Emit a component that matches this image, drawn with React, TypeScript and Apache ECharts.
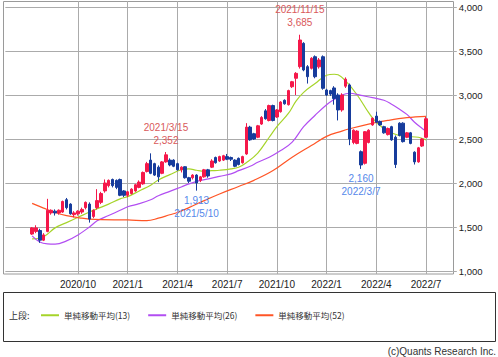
import React, { useEffect, useRef } from "react";
import * as echarts from "echarts";

// Weekly categories (Mondays)
const FIRST_WEEK = "2020-05-25";
const WEEK_COUNT = 118;
const CANDLE_START = "2020-07-13";

// Weekly candles from 2020-07-13 to 2022-07-04
const OPEN = [
  1420, 1450, 1460, 1350, 1450, 1660, 1680, 1660, 1670, 1810, 1760, 1640, 1650, 1670, 1720, 1760, 1620, 1720, 1780, 1910,
  1970, 2040, 2030, 2040, 1910, 1860, 1880, 1910, 1950, 1990, 2130, 2260, 2220, 2180, 2110, 2240, 2260, 2260, 2220, 2150,
  2185, 2060, 2060, 2090, 2030, 2070, 2150, 2180, 2290, 2250, 2260, 2300, 2290, 2260, 2280, 2230, 2330, 2635, 2560, 2520,
  2670, 2820, 2710, 2880, 2750, 2810, 2940, 2890, 3094, 3190, 3322, 3587, 3322, 3303, 3435, 3320, 3435, 3057, 3050, 3080,
  3000, 2830, 3100, 3114, 2460, 2450, 2356, 2224, 2460, 2660, 2760, 2700, 2640, 2550, 2640, 2520, 2680, 2680, 2520, 2570,
  2350, 2240, 2420, 2520,
];
const CLOSE = [
  1490, 1490, 1350, 1410, 1690, 1690, 1660, 1690, 1790, 1720, 1650, 1660, 1680, 1700, 1780, 1590, 1690, 1800, 1880, 2000,
  2030, 1970, 1950, 1860, 1860, 1900, 1930, 1980, 2010, 2120, 2220, 2110, 2090, 2070, 2240, 2320, 2205, 2190, 2150, 2180,
  2060, 2020, 2090, 2000, 2070, 2150, 2080, 2250, 2230, 2300, 2310, 2270, 2270, 2190, 2210, 2300, 2635, 2490, 2500, 2650,
  2745, 2730, 2880, 2710, 2830, 2920, 2900, 3050, 3151, 3246, 3625, 3284, 3208, 3417, 3208, 3398, 3076, 3000, 3010, 2960,
  2830, 3000, 3180, 2500, 2600, 2590, 2205, 2583, 2600, 2735, 2690, 2660, 2570, 2620, 2490, 2210, 2540, 2470, 2570, 2450,
  2240, 2400, 2500, 2730,
];
const LOW = [
  1410, 1430, 1320, 1340, 1440, 1640, 1630, 1640, 1660, 1700, 1640, 1610, 1630, 1650, 1700, 1550, 1600, 1700, 1760, 1890,
  1950, 1950, 1930, 1850, 1840, 1840, 1870, 1900, 1940, 1980, 2120, 2100, 2080, 2010, 2100, 2230, 2190, 2180, 2140, 2120,
  2050, 2000, 2040, 1913, 2010, 2060, 2060, 2170, 2220, 2240, 2250, 2260, 2250, 2180, 2200, 2220, 2320, 2480, 2490, 2510,
  2660, 2720, 2700, 2700, 2740, 2800, 2890, 2880, 3080, 3000, 3300, 3270, 3130, 3290, 3190, 3300, 3060, 2990, 2990, 2890,
  2711, 2810, 3080, 2430, 2440, 2440, 2160, 2210, 2450, 2650, 2680, 2650, 2560, 2540, 2480, 2170, 2530, 2460, 2510, 2440,
  2210, 2230, 2410, 2510,
];
const HIGH = [
  1500, 1520, 1480, 1430, 1820, 1700, 1700, 1700, 1800, 1830, 1770, 1680, 1690, 1720, 1790, 1780, 1700, 1930, 1900, 2040,
  2040, 2050, 2040, 2050, 1920, 1910, 1940, 1990, 2030, 2130, 2240, 2337, 2230, 2200, 2250, 2352, 2280, 2270, 2230, 2190,
  2190, 2070, 2100, 2100, 2080, 2160, 2160, 2270, 2300, 2310, 2320, 2330, 2300, 2270, 2290, 2310, 2680, 2650, 2570, 2660,
  2760, 2840, 2890, 2890, 2840, 2930, 2950, 3060, 3160, 3260, 3685, 3600, 3340, 3430, 3450, 3420, 3450, 3070, 3060, 3100,
  3020, 3020, 3200, 3130, 2610, 2600, 2370, 2590, 2610, 2745, 2810, 2710, 2650, 2630, 2650, 2540, 2690, 2690, 2580, 2580,
  2360, 2410, 2510, 2750,
];

// Moving averages (week index -> value)
const MA13_WEEKS = [7, 10, 13, 16, 19, 22, 24, 27, 30, 32, 35, 38, 40, 43, 46, 48, 50, 52, 54, 56, 59, 61, 63, 66, 69, 71, 74, 76, 78, 81, 84, 86, 87, 89, 92, 95, 97, 100, 103, 105, 108, 110];
const MA13 = [1365, 1390, 1490, 1550, 1610, 1670, 1707, 1760, 1820, 1845, 1910, 1975, 2035, 2095, 2150, 2160, 2145, 2135, 2140, 2145, 2160, 2179, 2230, 2340, 2520, 2640, 2790, 2930, 3030, 3130, 3225, 3236, 3230, 3160, 3000, 2800, 2690, 2590, 2540, 2528, 2520, 2490];
const MA26_WEEKS = [7, 9, 11, 13, 16, 19, 22, 24, 27, 30, 32, 35, 38, 40, 43, 46, 48, 51, 54, 56, 59, 61, 64, 66, 69, 72, 75, 78, 81, 84, 86, 88, 90, 93, 96, 99, 101, 103, 105, 107, 109, 110];
const MA26 = [1400, 1330, 1308, 1305, 1342, 1410, 1500, 1570, 1630, 1690, 1730, 1765, 1810, 1855, 1905, 1955, 1990, 2030, 2055, 2075, 2103, 2140, 2190, 2236, 2293, 2369, 2464, 2640, 2770, 2890, 2950, 3000, 3020, 2995, 2970, 2940, 2895, 2840, 2780, 2690, 2620, 2590];
const MA52_WEEKS = [7, 10, 13, 16, 20, 22, 25, 32, 37, 40, 43, 45, 48, 52, 56, 61, 65, 70, 75, 80, 84, 88, 90, 95, 100, 105, 110];
const MA52 = [1768, 1715, 1665, 1630, 1600, 1590, 1584, 1580, 1572, 1600, 1639, 1665, 1720, 1800, 1875, 1960, 2030, 2141, 2293, 2426, 2530, 2590, 2616, 2670, 2711, 2742, 2757];

const MA_NAMES = ["単純移動平均(13)", "単純移動平均(26)", "単純移動平均(52)"];

// Axis
const TICK_DATES = ["2020-10-05", "2021-01-04", "2021-04-05", "2021-07-05", "2021-10-04", "2022-01-03", "2022-04-04", "2022-07-04"];
const TICK_LABELS = ["2020/10", "2021/1", "2021/4", "2021/7", "2021/10", "2022/1", "2022/4", "2022/7"];

// Annotations
const NOTE_DATES = ["2021-11-15", "2021-03-15", "2021-05-10", "2022-03-07"];
const NOTE_VALUES = [3685, 2352, 1913, 2160];
const NOTE_KINDS = ["high", "high", "low", "low"];

const UP = "#f5184a";
const DOWN = "#173c9c";
const C13 = "#a6d42a";
const C26 = "#b24ef2";
const C52 = "#ff5526";
const RED_TXT = "#d9595b";
const BLUE_TXT = "#5588ea";
const GRID = "#ababab";

function buildWeeks(): string[] {
  const start = Date.parse(FIRST_WEEK + "T00:00:00Z");
  return Array.from({ length: WEEK_COUNT }, (_, k) =>
    new Date(start + k * 7 * 86400000).toISOString().slice(0, 10)
  );
}

const fmt = (v: number) => v.toLocaleString("en-US");
const slashDate = (d: string) => {
  const [y, m, dd] = d.split("-");
  return `${y}/${+m}/${+dd}`;
};

export default function App() {
  const ref = useRef<HTMLDivElement>(null);

  useEffect(() => {
    if (!ref.current) return;
    const chart = echarts.init(ref.current, undefined, { renderer: "svg" });
    const weeks = buildWeeks();
    const startIdx = weeks.indexOf(CANDLE_START);
    const candles: any[] = weeks.map(() => ["-", "-", "-", "-"]);
    OPEN.forEach((o, k) => {
      candles[startIdx + k] = [o, CLOSE[k], LOW[k], HIGH[k]];
    });
    const tickSet = new Set(TICK_DATES);
    const isTick = (_i: number, v: string) => tickSet.has(v);

    const notes = NOTE_DATES.map((d, k) => {
      const high = NOTE_KINDS[k] === "high";
      return {
        coord: [d, NOTE_VALUES[k]],
        symbol: "circle",
        symbolSize: 1,
        itemStyle: { color: "rgba(0,0,0,0)" },
        label: {
          show: true,
          position: high ? "top" : "bottom",
          distance: high ? 5 : 3,
          formatter: high
            ? `${slashDate(d)}\n${fmt(NOTE_VALUES[k])}`
            : `${fmt(NOTE_VALUES[k])}\n${slashDate(d)}`,
          color: high ? RED_TXT : BLUE_TXT,
          fontSize: 10,
          lineHeight: 13,
          fontFamily: "Liberation Sans",
          align: "center",
        },
      };
    });

    const maLine = (name: string, w: number[], vals: number[], color: string) => ({
      name,
      type: "line",
      xAxisIndex: 1,
      yAxisIndex: 1,
      data: w.map((wi, k) => [wi, vals[k]]),
      showSymbol: false,
      symbol: "none",
      smooth: 0.4,
      lineStyle: { color, width: 1.2 },
      itemStyle: { color },
      z: 3,
    });

    const gl = 5.35;
    const gr = 45.2;

    chart.setOption({
      animation: false,
      textStyle: { fontFamily: "Liberation Sans" },
      grid: [
        { left: gl, right: gr, top: 1, bottom: 83 },
        { left: gl, right: gr, top: 7, bottom: 86 },
      ],
      xAxis: [
        {
          type: "category",
          gridIndex: 0,
          data: weeks,
          boundaryGap: false,
          axisLine: { show: false },
          axisTick: { show: false },
          axisLabel: {
            interval: isTick,
            margin: 5,
            fontSize: 10,
            color: "#222",
            formatter: (v: string) => {
              const k = TICK_DATES.indexOf(v);
              return k >= 0 ? TICK_LABELS[k] : "";
            },
          },
          splitLine: { show: true, interval: isTick, lineStyle: { color: GRID, width: 1 } },
        },
        {
          type: "category",
          gridIndex: 1,
          data: weeks,
          boundaryGap: false,
          show: false,
        },
      ],
      yAxis: [
        { type: "value", gridIndex: 0, min: 0, max: 1, show: false },
        {
          type: "value",
          gridIndex: 1,
          position: "right",
          min: 1000,
          max: 4000,
          interval: 500,
          axisLine: { show: false },
          axisTick: { show: true, length: 4, lineStyle: { color: GRID } },
          axisLabel: {
            margin: 6,
            fontSize: 9.5,
            color: "#222",
            formatter: (v: number) => fmt(v),
          },
          splitLine: { show: true, lineStyle: { color: GRID, width: 1 } },
        },
      ],
      legend: {
        data: MA_NAMES,
        left: 36,
        top: 306,
        icon: "rect",
        itemWidth: 18,
        itemHeight: 2,
        itemGap: 18,
        textStyle: { fontFamily: "Noto Sans CJK JP", fontSize: 8.5, color: "#333" },
        selectedMode: false,
      },
      graphic: [
        {
          type: "rect",
          shape: { x: 3.5, y: 1.5, width: 450, height: 272.5 },
          style: { fill: "none", stroke: "#9a9a9a", lineWidth: 1 },
          silent: true,
        },
        {
          type: "rect",
          shape: { x: 3.5, y: 292.5, width: 492, height: 49 },
          style: { fill: "none", stroke: "#333", lineWidth: 1 },
          silent: true,
        },
        {
          type: "text",
          left: 9,
          top: 311,
          style: { text: "上段:", fontSize: 9, fontFamily: "Noto Sans CJK JP", fill: "#333" },
          silent: true,
        },
        {
          type: "text",
          right: 2,
          top: 346,
          style: { text: "(c)Quants Research Inc.", fontSize: 10, fontFamily: "Liberation Sans", fill: "#333" },
          silent: true,
        },
      ],
      series: [
        {
          name: "price",
          type: "candlestick",
          xAxisIndex: 1,
          yAxisIndex: 1,
          data: candles,
          barWidth: 3,
          itemStyle: {
            color: UP,
            color0: DOWN,
            borderColor: UP,
            borderColor0: DOWN,
            borderWidth: 1,
          },
          markPoint: { data: notes, animation: false },
          z: 4,
        },
        maLine(MA_NAMES[0], MA13_WEEKS, MA13, C13),
        maLine(MA_NAMES[1], MA26_WEEKS, MA26, C26),
        maLine(MA_NAMES[2], MA52_WEEKS, MA52, C52),
      ],
    });
    return () => chart.dispose();
  }, []);

  return (
    <div
      ref={ref}
      style={{ position: "fixed", left: 0, top: 0, width: 498, height: 357, background: "#fff" }}
    />
  );
}
